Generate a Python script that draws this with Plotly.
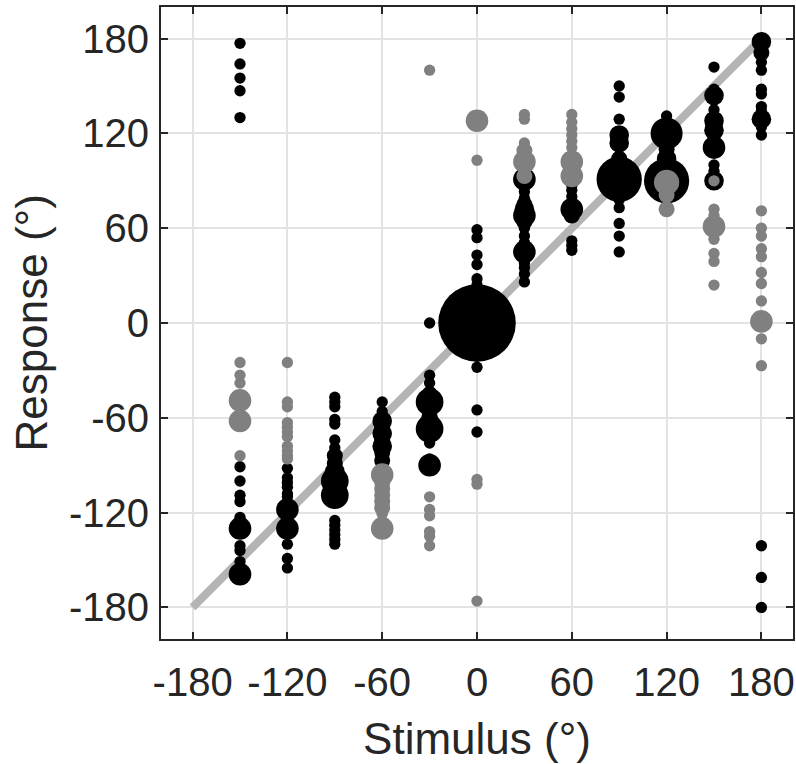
import plotly.graph_objects as go

# ---- data: black series (stimulus, response, count of responses) ----
black_stim = ([-150]*16 + [-120]*12 + [-90]*18 + [-60]*9 + [-30]*13 + [0]*11
              + [30]*16 + [60]*8 + [90]*13 + [120]*6 + [150]*10 + [180]*14)
black_resp = [
    177, 164, 155, 147, 130, -91, -100, -109, -113, -123, -125, -130, -141, -144, -151, -159,
    -92, -98, -101, -104, -108, -110, -114, -118, -130, -140, -149, -155,
    -47, -50, -53, -61, -64, -74, -79, -84, -89, -94, -100, -109, -125, -128, -131, -134, -137, -140,
    -50, -56, -62, -66, -70, -74, -78, -82, -87,
    0, -33, -38, -45, -50, -55, -59, -63, -67, -72, -76, -86, -90,
    59, 54, 43, 37, 28, 24, 0, -21, -28, -55, -69,
    91, 86, 83, 79, 75, 72, 68, 64, 60, 55, 51, 45, 38, 35, 31, 26,
    87, 84, 80, 72, 68, 52, 49, 46,
    150, 143, 129, 119, 114, 104, 91, 82, 78, 73, 63, 55, 45,
    131, 120, 110, 104, 99, 90,
    162, 148, 144, 135, 128, 122, 111, 100, 96, 90,
    178, 171, 165, 160, 148, 145, 137, 134, 129, 124, 119, -141, -161, -180,
]
black_count = [
    1, 1, 1, 1, 1, 1, 1, 1, 1, 1, 1, 4, 1, 1, 1, 4,
    1, 1, 1, 1, 1, 1, 1, 4, 4, 1, 1, 1,
    1, 1, 1, 1, 1, 1, 1, 2, 2, 3, 6, 6, 1, 1, 1, 1, 1, 1,
    1, 1, 3, 2, 3, 2, 3, 2, 2,
    1, 1, 1, 2, 6, 2, 2, 3, 6, 1, 1, 1, 4,
    1, 1, 1, 1, 1, 1, 47, 1, 1, 1, 1,
    4, 1, 1, 1, 2, 3, 4, 2, 1, 1, 1, 4, 1, 1, 1, 1,
    1, 1, 1, 4, 2, 1, 1, 1,
    1, 1, 1, 3, 3, 2, 16, 2, 1, 1, 1, 1, 1,
    1, 8, 2, 3, 3, 16,
    1, 1, 3, 1, 3, 3, 4, 1, 1, 3,
    3, 2, 1, 1, 1, 1, 1, 1, 3, 1, 1, 1, 1, 1,
]

# ---- data: gray series ----
gray_stim = ([-150]*6 + [-120]*11 + [-60]*8 + [-30]*7 + [0]*6 + [30]*6
             + [60]*8 + [120]*3 + [150]*9 + [180]*11)
gray_resp = [
    -25, -33, -38, -49, -62, -84,
    -25, -50, -53, -63, -66, -69, -72, -78, -81, -84, -86,
    -96, -101, -105, -109, -113, -117, -121, -130,
    160, -110, -118, -122, -132, -135, -141,
    131, 128, 103, -99, -102, -176,
    132, 129, 114, 109, 102, 93,
    132, 127, 123, 119, 115, 111, 102, 93,
    89, 81, 72,
    90, 72, 68, 65, 61, 53, 44, 39, 24,
    71, 60, 55, 47, 42, 32, 25, 14, 1, -10, -27,
]
gray_count = [
    1, 1, 1, 4, 4, 1,
    1, 1, 1, 1, 1, 1, 1, 1, 1, 1, 1,
    4, 2, 2, 2, 2, 2, 1, 4,
    1, 1, 1, 1, 1, 1, 1,
    1, 4, 1, 1, 1, 1,
    1, 1, 1, 2, 4, 2,
    1, 1, 1, 1, 1, 1, 4, 4,
    5, 2, 2,
    1, 1, 1, 1, 4, 1, 1, 1, 1,
    1, 1, 1, 1, 1, 1, 1, 1, 4, 1, 1,
]

identity = [-180, 180]
tick_vals = [-180, -120, -60, 0, 60, 120, 180]
tick_text = ["-180", "-120", "-60", "0", "60", "120", "180"]
x_title = "Stimulus (°)"
y_title = "Response (°)"

FONT = "Liberation Sans, Arial, Helvetica, sans-serif"
INK = "#262626"

fig = go.Figure()
fig.add_trace(go.Scatter(x=identity, y=identity, mode="lines",
                         line=dict(color="#b4b4b4", width=8), hoverinfo="skip"))
fig.add_trace(go.Scatter(x=black_stim, y=black_resp, mode="markers",
                         marker=dict(size=black_count, sizemode="area", sizeref=1/64,
                                     color="black", opacity=1, line=dict(width=0))))
fig.add_trace(go.Scatter(x=gray_stim, y=gray_resp, mode="markers",
                         marker=dict(size=gray_count, sizemode="area", sizeref=1/64,
                                     color="#808080", opacity=1, line=dict(width=0))))

axis_common = dict(
    range=[-200, 200], tickvals=tick_vals, ticktext=tick_text,
    showgrid=True, gridcolor="#e3e3e3", gridwidth=2, zeroline=False,
    showline=True, linecolor=INK, linewidth=2, mirror="ticks",
    ticks="inside", ticklen=7, tickwidth=2, tickcolor=INK, automargin=False,
    tickfont=dict(family=FONT, size=40, color=INK),
)
fig.update_xaxes(**axis_common, ticklabelstandoff=7,
                 title=dict(text=x_title, font=dict(family=FONT, size=44, color=INK), standoff=20))
fig.update_yaxes(**axis_common, ticklabelstandoff=2)

fig.add_annotation(text=y_title, xref="paper", yref="paper", x=-0.205, y=0.5,
                   xanchor="center", yanchor="middle", textangle=-90, showarrow=False,
                   font=dict(family=FONT, size=44, color=INK))

fig.update_layout(
    width=796, height=764,
    margin=dict(l=161, r=3, t=7, b=125),
    paper_bgcolor="white", plot_bgcolor="white",
    showlegend=False,
)
fig.write_html("out.html", config={"displayModeBar": False},
               post_script="document.body.style.margin='0';document.body.style.padding='0';")
